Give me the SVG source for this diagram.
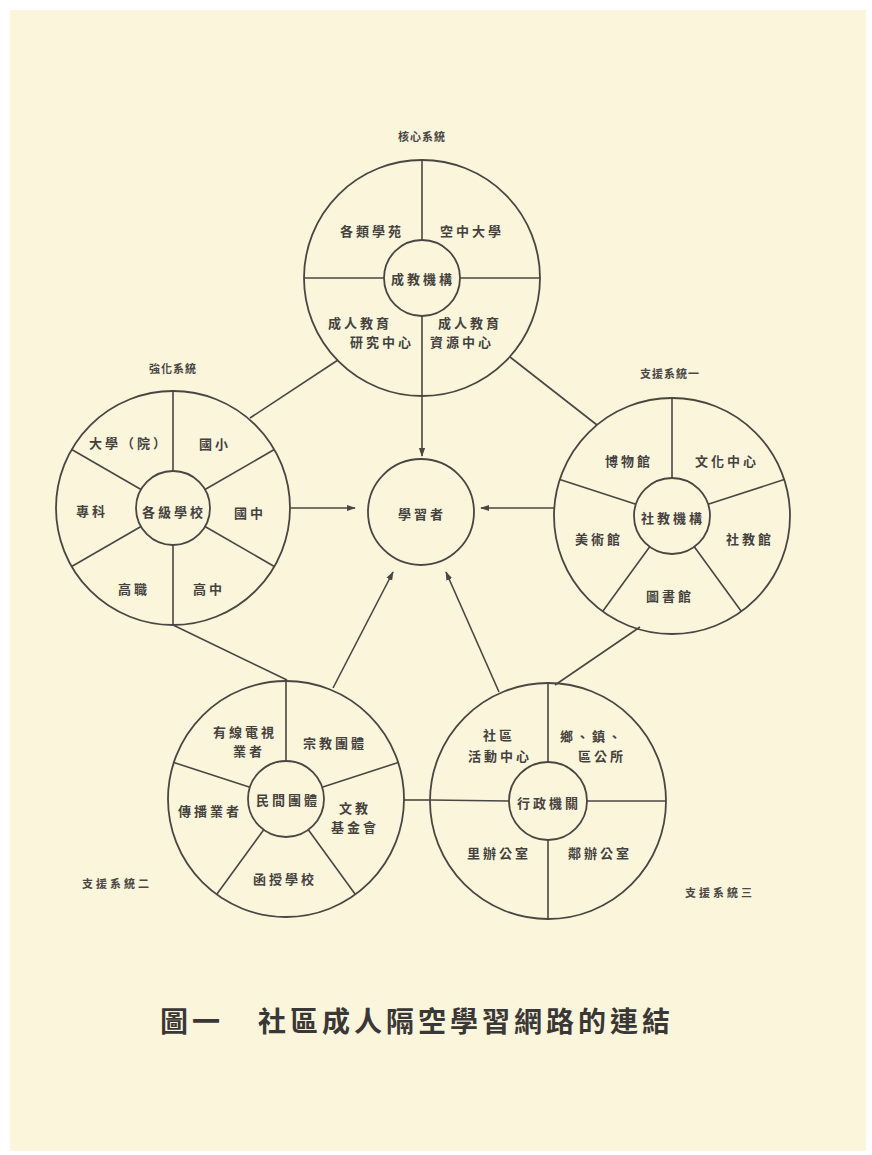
<svg xmlns="http://www.w3.org/2000/svg" width="872" height="1155" viewBox="0 0 872 1155">
<defs>
<style>
.ln{stroke:#4a4642;stroke-width:1.6;fill:none}
.ci{stroke:#4a4642;stroke-width:1.8;fill:none}
.t{font-family:"Noto Sans CJK TC","Noto Sans CJK SC",sans-serif;font-size:13px;font-weight:700;fill:#45423e;text-anchor:middle;dominant-baseline:central;letter-spacing:3px}
.s{font-family:"Noto Sans CJK TC","Noto Sans CJK SC",sans-serif;font-size:11px;font-weight:700;fill:#4a4744;text-anchor:middle;dominant-baseline:central;letter-spacing:1px}
.cap{font-family:"Noto Sans CJK TC","Noto Sans CJK SC",sans-serif;font-size:28px;font-weight:700;fill:#3a3836;dominant-baseline:central;letter-spacing:4px}
</style>
<marker id="ah" viewBox="0 0 10 10" refX="9" refY="5" markerWidth="9" markerHeight="9" markerUnits="userSpaceOnUse" orient="auto">
<path d="M0,1.5 L10,5 L0,8.5 z" fill="#4a4642"/>
</marker>
</defs>
<rect x="0" y="0" width="872" height="1155" fill="#ffffff"/>
<rect x="10" y="10" width="856" height="1141" fill="#fbf5dc"/>

<g id="connectors">
<line class="ln" x1="422" y1="316" x2="422" y2="456" marker-end="url(#ah)"/>
<line class="ln" x1="290" y1="508" x2="355" y2="508" marker-end="url(#ah)"/>
<line class="ln" x1="554" y1="508" x2="481" y2="508" marker-end="url(#ah)"/>
<line class="ln" x1="333" y1="688" x2="393" y2="572" marker-end="url(#ah)"/>
<line class="ln" x1="499" y1="692" x2="446" y2="572" marker-end="url(#ah)"/>
<line class="ln" x1="338" y1="360" x2="250" y2="418"/>
<line class="ln" x1="510" y1="357" x2="597" y2="425"/>
<line class="ln" x1="173" y1="625" x2="287" y2="680"/>
<line class="ln" x1="640" y1="627" x2="555" y2="685"/>
<line class="ln" x1="404" y1="800" x2="430" y2="800"/>
</g>

<g id="core">
<text class="s" x="422" y="136">核心系統</text>
<circle class="ci" cx="422" cy="278" r="118"/>
<circle class="ci" cx="422" cy="278" r="38"/>
<line class="ln" x1="422" y1="240" x2="422" y2="160"/>
<line class="ln" x1="384" y1="278" x2="304" y2="278"/>
<line class="ln" x1="460" y1="278" x2="540" y2="278"/>
<text class="t" x="372" y="230">各類學苑</text>
<text class="t" x="472" y="230">空中大學</text>
<text class="t" x="423" y="278">成教機構</text>
<text class="t" x="360" y="322">成人教育</text>
<text class="t" x="382" y="341">研究中心</text>
<text class="t" x="470" y="322">成人教育</text>
<text class="t" x="462" y="341">資源中心</text>
</g>

<g id="learner">
<circle class="ci" cx="421" cy="512" r="53"/>
<text class="t" x="422" y="513">學習者</text>
</g>

<g id="strengthen">
<text class="s" x="173" y="368">強化系統</text>
<circle class="ci" cx="173" cy="508" r="117"/>
<circle class="ci" cx="173" cy="508" r="37"/>
<line class="ln" x1="173" y1="471" x2="173" y2="391"/>
<line class="ln" x1="173" y1="545" x2="173" y2="625"/>
<line class="ln" x1="205" y1="489.5" x2="274.3" y2="449.5"/>
<line class="ln" x1="141" y1="489.5" x2="71.7" y2="449.5"/>
<line class="ln" x1="141" y1="526.5" x2="71.7" y2="566.5"/>
<line class="ln" x1="205" y1="526.5" x2="274.3" y2="566.5"/>
<text class="t" x="129" y="442">大學（院）</text>
<text class="t" x="215" y="443">國小</text>
<text class="t" x="92" y="510">專科</text>
<text class="t" x="174" y="511">各級學校</text>
<text class="t" x="250" y="512">國中</text>
<text class="t" x="134" y="588">高職</text>
<text class="t" x="209" y="588">高中</text>
</g>

<g id="support1">
<text class="s" x="670" y="373">支援系統一</text>
<circle class="ci" cx="672" cy="516" r="118"/>
<circle class="ci" cx="672" cy="516" r="38"/>
<line class="ln" x1="672" y1="478" x2="672" y2="398"/>
<line class="ln" x1="708.1" y1="504.3" x2="784.2" y2="479.5"/>
<line class="ln" x1="635.9" y1="504.3" x2="559.8" y2="479.5"/>
<line class="ln" x1="694.3" y1="546.7" x2="741.4" y2="611.5"/>
<line class="ln" x1="649.7" y1="546.7" x2="602.6" y2="611.5"/>
<text class="t" x="629" y="460">博物館</text>
<text class="t" x="727" y="460">文化中心</text>
<text class="t" x="673" y="517">社教機構</text>
<text class="t" x="599" y="538">美術館</text>
<text class="t" x="750" y="538">社教館</text>
<text class="t" x="670" y="595">圖書館</text>
</g>

<g id="support2">
<text class="s" x="117" y="883" style="letter-spacing:3px">支援系統二</text>
<circle class="ci" cx="286" cy="799" r="118"/>
<circle class="ci" cx="286" cy="799" r="38"/>
<line class="ln" x1="286" y1="761" x2="286" y2="681"/>
<line class="ln" x1="322.1" y1="787.3" x2="398.2" y2="762.5"/>
<line class="ln" x1="249.9" y1="787.3" x2="173.8" y2="762.5"/>
<line class="ln" x1="308.3" y1="829.7" x2="355.4" y2="894.5"/>
<line class="ln" x1="263.7" y1="829.7" x2="216.6" y2="894.5"/>
<text class="t" x="245" y="731">有線電視</text>
<text class="t" x="249" y="750">業者</text>
<text class="t" x="335" y="742">宗教團體</text>
<text class="t" x="288" y="799">民間團體</text>
<text class="t" x="210" y="810">傳播業者</text>
<text class="t" x="355" y="807">文教</text>
<text class="t" x="355" y="826">基金會</text>
<text class="t" x="285" y="878">函授學校</text>
</g>

<g id="support3">
<text class="s" x="720" y="892" style="letter-spacing:3px">支援系統三</text>
<circle class="ci" cx="548" cy="801" r="118"/>
<circle class="ci" cx="548" cy="801" r="39"/>
<line class="ln" x1="548" y1="762" x2="548" y2="683"/>
<line class="ln" x1="548" y1="840" x2="548" y2="919"/>
<line class="ln" x1="587" y1="801" x2="666" y2="801"/>
<line class="ln" x1="430" y1="800" x2="509" y2="801"/>
<text class="t" x="499" y="734">社區</text>
<text class="t" x="500" y="755">活動中心</text>
<text class="t" x="592" y="735">鄉、鎮、</text>
<text class="t" x="602" y="755">區公所</text>
<text class="t" x="549" y="802">行政機關</text>
<text class="t" x="499" y="852">里辦公室</text>
<text class="t" x="600" y="852">鄰辦公室</text>
</g>

<g id="caption">
<text class="cap" x="160" y="1020">圖一</text>
<text class="cap" x="258" y="1020">社區成人隔空學習網路的連結</text>
</g>
</svg>
